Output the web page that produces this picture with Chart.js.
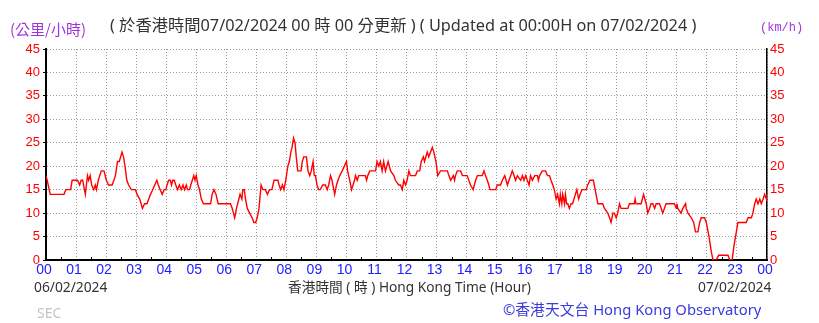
<!DOCTYPE html>
<html><head><meta charset="utf-8">
<script src="https://cdn.jsdelivr.net/npm/chart.js@4"></script>
<style>
html,body{margin:0;padding:0;background:#fff;}
#wrap{position:relative;width:819px;height:323px;overflow:hidden;background:#fff;}
canvas{position:absolute;left:0;top:0;}
.t{position:absolute;white-space:nowrap;line-height:1;font-family:"Noto Sans","Noto Sans CJK TC",sans-serif;}
</style></head><body>
<div id="wrap">
<canvas id="c" width="819" height="323"></canvas>
<div class="t" id="unitL" style="left:10px;top:21px;font-size:15px;color:#a033dd;font-family:'Noto Sans CJK TC',sans-serif;">(公里/小時)</div>
<div class="t" id="title" style="left:110px;top:17px;font-size:16.3px;color:#333;">( 於香港時間07/02/2024 00 時 00 分更新 ) ( Updated at 00:00H on 07/02/2024 )</div>
<div class="t" id="unitR" style="left:760px;top:22px;font-size:12px;color:#a033dd;font-family:'Liberation Mono',monospace;">(km/h)</div>
<div class="t" id="d1" style="left:34px;top:280px;font-size:13.8px;color:#333;">06/02/2024</div>
<div class="t" id="xt" style="left:288px;top:280px;font-size:13.7px;color:#333;">香港時間 ( 時 ) Hong Kong Time (Hour)</div>
<div class="t" id="d2" style="left:698px;top:280px;font-size:13.8px;color:#333;">07/02/2024</div>
<div class="t" id="copy" style="left:503px;top:302px;font-size:14.8px;color:#3a3adf;">©香港天文台 Hong Kong Observatory</div>
<div class="t" id="sec" style="left:37px;top:306px;font-size:14px;color:#c4c4c4;">SEC</div>
</div>
<script>
// Time of each reading (hours after 00:00 on 06/02/2024)
const hours = [
 0,0.04,0.14,0.60,0.66,0.82,0.87,
 1.05,1.12,1.17,1.22,1.31,1.38,1.42,1.47,1.52,1.59,1.64,1.68,1.74,1.84,1.93,
 2.01,2.08,2.20,2.26,2.31,2.38,2.44,2.53,2.58,2.63,2.69,2.75,2.84,2.98,
 3.03,3.12,3.21,3.28,3.36,3.42,3.48,3.55,3.62,3.69,3.74,3.80,3.87,3.93,3.99,
 4.03,4.08,4.14,4.18,4.22,4.27,4.32,4.38,4.44,4.50,4.56,4.61,4.67,4.71,4.78,4.82,4.87,4.92,4.96,
 5.00,5.06,5.11,5.17,5.24,5.48,5.53,5.59,5.66,5.73,
 6.14,6.20,6.28,6.34,6.42,6.46,6.52,6.55,6.60,6.64,6.70,6.78,6.86,6.92,6.98,
 7.03,7.09,7.16,7.22,7.30,7.37,7.44,7.52,7.59,7.72,7.76,7.81,7.87,7.92,7.98,
 8.05,8.10,8.15,8.19,8.24,8.29,8.33,8.38,8.49,8.53,8.58,8.67,8.72,8.78,8.83,8.89,8.93,8.97,
 9.02,9.08,9.13,9.21,9.30,9.36,9.41,9.47,9.52,9.58,9.61,9.67,9.72,9.78,9.86,
 10.00,10.04,10.11,10.17,10.22,10.27,10.30,10.36,10.41,10.63,10.67,10.71,10.78,10.97,
 11.02,11.08,11.13,11.19,11.24,11.30,11.39,11.47,11.58,11.63,11.74,11.80,11.86,11.91,11.97,
 12.02,12.08,12.13,12.30,12.36,12.44,12.49,12.56,12.60,12.69,12.74,12.86,12.91,12.98,
 13.04,13.13,13.36,13.41,13.47,13.56,13.60,13.63,13.69,13.80,13.86,
 14.02,14.13,14.22,14.30,14.36,14.52,14.58,14.63,14.69,14.74,14.78,14.97,
 15.02,15.13,15.19,15.27,15.36,15.41,15.47,15.52,15.58,15.63,15.69,15.80,15.86,15.91,15.97,
 16.02,16.08,16.13,16.19,16.27,16.36,16.39,16.43,16.52,16.63,16.69,16.76,16.81,16.87,16.92,16.98,
 17.03,17.09,17.12,17.17,17.20,17.26,17.29,17.33,17.37,17.42,17.48,17.53,17.62,17.67,17.73,17.78,17.84,17.98,
 18.03,18.11,18.22,18.28,18.37,18.53,18.59,18.70,18.76,18.81,18.87,18.92,18.98,
 19.03,19.09,19.14,19.37,19.42,19.58,19.61,19.64,19.81,19.89,19.98,
 20.03,20.09,20.14,20.20,20.26,20.31,20.42,20.48,20.53,20.64,20.92,20.98,
 21.00,21.03,21.14,21.20,21.29,21.31,21.37,21.48,21.56,21.62,21.70,21.76,21.81,21.92,21.98,
 22.07,22.14,22.20,22.31,22.39,22.70,22.76,22.84,22.90,22.98,
 23.03,23.31,23.37,23.48,23.53,23.59,23.64,23.70,23.76,23.81,23.87,23.92,23.98,24.00
];
// Wind speed (km/h) at each reading
const speeds = [
 18,17,14,14,15,15,17,
 17,16,17,17,14,18,17,18,16,15,16,15,17,19,19,
 17,16,16,17,18,21,21,23,22,20,17,16,15,15,
 14,13,11,12,12,13,14,15,16,17,16,15,14,15,15,
 16,17,17,16,17,17,16,15,16,15,16,15,16,15,15,16,17,18,17,
 18,16,15,13,12,12,14,15,14,12,
 12,11,9,11,13,14,13,15,15,13,11,10,9,8,8,
 9,11,16,15,15,14,15,15,17,17,16,15,16,15,17,
 20,21,23,24,26,25,22,19,19,21,22,22,19,18,19,21,18,18,
 16,15,15,16,16,15,16,18,17,15,14,16,17,18,19,
 21,19,17,15,16,17,18,17,18,18,17,18,19,19,
 21,20,21,19,21,19,21,19,18,17,16,16,15,17,16,
 17,19,18,18,19,19,21,22,21,23,22,24,23,21,
 18,19,19,18,17,18,17,18,19,19,18,
 18,16,15,17,18,18,19,18,17,16,15,15,
 16,16,17,18,16,17,18,19,18,17,18,17,18,17,18,
 17,16,18,17,18,18,17,18,19,19,18,18,17,16,15,13,
 14,12,14,12,14,12,14,12,12,11,12,12,14,15,13,14,15,15,
 16,17,17,15,12,12,11,10,9,8,10,10,9,
 10,12,11,11,12,12,13,12,12,14,12,
 10,11,12,12,11,12,12,11,10,12,12,11,
 12,11,10,11,12,11,10,9,8,6,6,8,9,9,8,
 5,2,0,0,1,1,0,0,3,6,
 8,8,9,9,10,12,13,12,13,12,13,14,13,14
];
const xTickLabels = ['00','01','02','03','04','05','06','07','08','09','10','11','12','13','14','15','16','17','18','19','20','21','22','23','00'];
const yMin = 0, yMax = 45, yStep = 5;

const n = Math.min(hours.length, speeds.length);
const points = [];
for (let i = 0; i < n; i++) points.push({x: hours[i], y: speeds[i]});

const halfHourTicks = {
  id: 'halfHourTicks',
  afterDraw(chart) {
    const ctx = chart.ctx, xs = chart.scales.x, b = chart.chartArea.bottom;
    ctx.save();
    ctx.strokeStyle = '#000'; ctx.lineWidth = 1;
    ctx.beginPath();
    for (let h = 0.5; h < 24; h += 1) {
      const px = Math.round(xs.getPixelForValue(h)) + 0.5;
      ctx.moveTo(px, b); ctx.lineTo(px, b - 3);
    }
    ctx.stroke();
    ctx.restore();
  }
};

const gridColor = '#9a9a9a';
new Chart(document.getElementById('c'), {
  type: 'line',
  data: { datasets: [{ data: points, borderColor: '#ff0000', borderWidth: 1.4, pointRadius: 0, tension: 0, fill: false }] },
  options: {
    responsive: false, animation: false,
    layout: { padding: { top: 49, left: 0, right: 0, bottom: 0 } },
    plugins: { legend: { display: false }, tooltip: { enabled: false }, title: { display: false } },
    scales: {
      x: {
        type: 'linear', min: 0, max: 24,
        afterFit(s) { s.height = 63; },
        afterBuildTicks(s) { s.ticks = xTickLabels.map((l, i) => ({ value: i })); },
        ticks: { autoSkip: false, maxRotation: 0, padding: 2, labelOffset: -2, color: '#2020ff',
          font: { family: '"Liberation Sans", Arial, sans-serif', size: 14 },
          callback: (v, i) => xTickLabels[i] },
        grid: { color: gridColor, lineWidth: 1, drawTicks: false },
        border: { color: '#000', width: 2, dash: [1, 2] }
      },
      y: {
        position: 'left', min: yMin, max: yMax,
        afterFit(s) { s.width = 46; },
        ticks: { stepSize: yStep, padding: 3, color: '#ff0000',
          font: { family: '"Liberation Sans Narrow", "Liberation Sans", Arial, sans-serif', size: 13 } },
        grid: { color: gridColor, lineWidth: 1, drawTicks: true, tickLength: 3, tickColor: '#000' },
        border: { color: '#000', width: 2, dash: [1, 2] }
      },
      y2: {
        position: 'right', min: yMin, max: yMax,
        afterFit(s) { s.width = 52; },
        ticks: { stepSize: yStep, padding: 3, color: '#ff0000',
          font: { family: '"Liberation Sans Narrow", "Liberation Sans", Arial, sans-serif', size: 13 } },
        grid: { drawOnChartArea: false, drawTicks: false },
        border: { color: '#000', width: 1.5 }
      }
    }
  },
  plugins: [halfHourTicks]
});
</script>
</body></html>
